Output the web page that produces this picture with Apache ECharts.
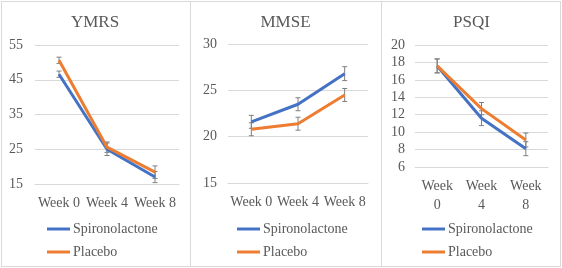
<!DOCTYPE html>
<html>
<head>
<meta charset="utf-8">
<script src="https://cdn.jsdelivr.net/npm/echarts@6/dist/echarts.min.js"></script>
<style>
  body { margin: 0; background: #fff; }
  .chart { position: absolute; top: 0; height: 268px; }
  .frame { position: absolute; top: 1px; height: 266px; box-sizing: border-box; border: 1px solid #d9d9d9; pointer-events: none; }
</style>
</head>
<body>
<div id="ymrs" class="chart" style="left:0;width:190px;"></div>
<div id="mmse" class="chart" style="left:190px;width:191px;"></div>
<div id="psqi" class="chart" style="left:381px;width:181px;"></div>
<div class="frame" style="left:1px;width:190px;"></div>
<div class="frame" style="left:190px;width:192px;"></div>
<div class="frame" style="left:381px;width:180px;"></div>

<script>
const weeks = ['Week 0', 'Week 4', 'Week 8']
const seriesNames = ['Spironolactone', 'Placebo']

// YMRS
const ymrsSpiro = [46.6, 25.0, 17.0]
const ymrsSpiroErr = [0.9, 1.8, 1.6]
const ymrsPlacebo = [50.6, 25.6, 18.4]
const ymrsPlaceboErr = [0.9, 1.5, 1.8]

// MMSE
const mmseSpiro = [21.6, 23.5, 26.8]
const mmseSpiroErr = [0.7, 0.7, 0.75]
const mmsePlacebo = [20.8, 21.4, 24.5]
const mmsePlaceboErr = [0.7, 0.7, 0.7]

// PSQI
const psqiSpiro = [17.6, 11.6, 8.1]
const psqiSpiroErr = [0.8, 0.85, 0.8]
const psqiPlacebo = [17.6, 12.7, 9.1]
const psqiPlaceboErr = [0.8, 0.7, 0.8]

const textColor = '#595959'
const gridColor = '#d9d9d9'
const font = 'Liberation Serif'
const colors = ['#4472C4', '#ED7D31']

function errData (vals, errs) {
  return vals.map((v, i) => [i, v - errs[i], v + errs[i]])
}

function errSeries (vals, errs) {
  return {
    type: 'custom',
    data: errData(vals, errs),
    z: 3,
    silent: true,
    renderItem (params, api) {
      const lo = api.coord([api.value(0), api.value(1)])
      const hi = api.coord([api.value(0), api.value(2)])
      const cap = 2.5
      const st = { stroke: '#7f7f7f', lineWidth: 1 }
      return {
        type: 'group',
        children: [
          { type: 'line', shape: { x1: lo[0], y1: lo[1], x2: hi[0], y2: hi[1] }, style: st },
          { type: 'line', shape: { x1: lo[0] - cap, y1: lo[1], x2: lo[0] + cap, y2: lo[1] }, style: st },
          { type: 'line', shape: { x1: hi[0] - cap, y1: hi[1], x2: hi[0] + cap, y2: hi[1] }, style: st }
        ]
      }
    }
  }
}

function makePanel (id, cfg) {
  const chart = echarts.init(document.getElementById(id))
  const option = {
    animation: false,
    textStyle: { fontFamily: font },
    title: {
      text: cfg.title,
      left: 'center',
      top: 9,
      textStyle: { color: textColor, fontSize: 17, fontWeight: 'normal', fontFamily: font }
    },
    legend: {
      data: seriesNames,
      orient: 'vertical',
      left: cfg.legendLeft,
      top: 217,
      itemGap: 9,
      itemWidth: 23,
      itemHeight: 3,
      icon: 'rect',
      textStyle: { color: textColor, fontSize: 14, fontFamily: font, padding: [0, 0, 0, -2] }
    },
    grid: cfg.grid,
    xAxis: {
      type: 'category',
      data: weeks,
      axisLine: { lineStyle: { color: gridColor } },
      axisTick: { show: false },
      axisLabel: {
        color: textColor,
        fontSize: 14,
        fontFamily: font,
        margin: 10,
        lineHeight: 19,
        interval: 0,
        formatter: cfg.wrapLabels ? v => v.replace(' ', '\n') : v => v
      }
    },
    yAxis: {
      type: 'value',
      min: cfg.min,
      max: cfg.max,
      interval: cfg.interval,
      axisLine: { show: false },
      axisTick: { show: false },
      splitLine: { lineStyle: { color: gridColor } },
      axisLabel: { color: textColor, fontSize: 14, fontFamily: font, margin: cfg.yMargin }
    },
    series: [
      {
        name: seriesNames[0],
        type: 'line',
        data: cfg.spiro,
        symbol: 'none',
        z: 4,
        lineStyle: { color: colors[0], width: 3 },
        itemStyle: { color: colors[0] }
      },
      {
        name: seriesNames[1],
        type: 'line',
        data: cfg.placebo,
        symbol: 'none',
        z: 5,
        lineStyle: { color: colors[1], width: 3 },
        itemStyle: { color: colors[1] }
      },
      errSeries(cfg.spiro, cfg.spiroErr),
      errSeries(cfg.placebo, cfg.placeboErr)
    ]
  }
  chart.setOption(option)
}

makePanel('ymrs', {
  title: 'YMRS',
  spiro: ymrsSpiro, spiroErr: ymrsSpiroErr,
  placebo: ymrsPlacebo, placeboErr: ymrsPlaceboErr,
  min: 15, max: 55, interval: 10,
  grid: { left: 35, width: 144, top: 45, height: 139 },
  yMargin: 12,
  legendLeft: 42
})

makePanel('mmse', {
  title: 'MMSE',
  spiro: mmseSpiro, spiroErr: mmseSpiroErr,
  placebo: mmsePlacebo, placeboErr: mmsePlaceboErr,
  min: 15, max: 30, interval: 5,
  grid: { left: 38, width: 140, top: 44, height: 139 },
  yMargin: 11,
  legendLeft: 42
})

makePanel('psqi', {
  title: 'PSQI',
  spiro: psqiSpiro, spiroErr: psqiSpiroErr,
  placebo: psqiPlacebo, placeboErr: psqiPlaceboErr,
  min: 6, max: 20, interval: 2,
  grid: { left: 34, width: 133, top: 45, height: 122 },
  yMargin: 10,
  legendLeft: 36,
  wrapLabels: true
})
</script>
</body>
</html>
